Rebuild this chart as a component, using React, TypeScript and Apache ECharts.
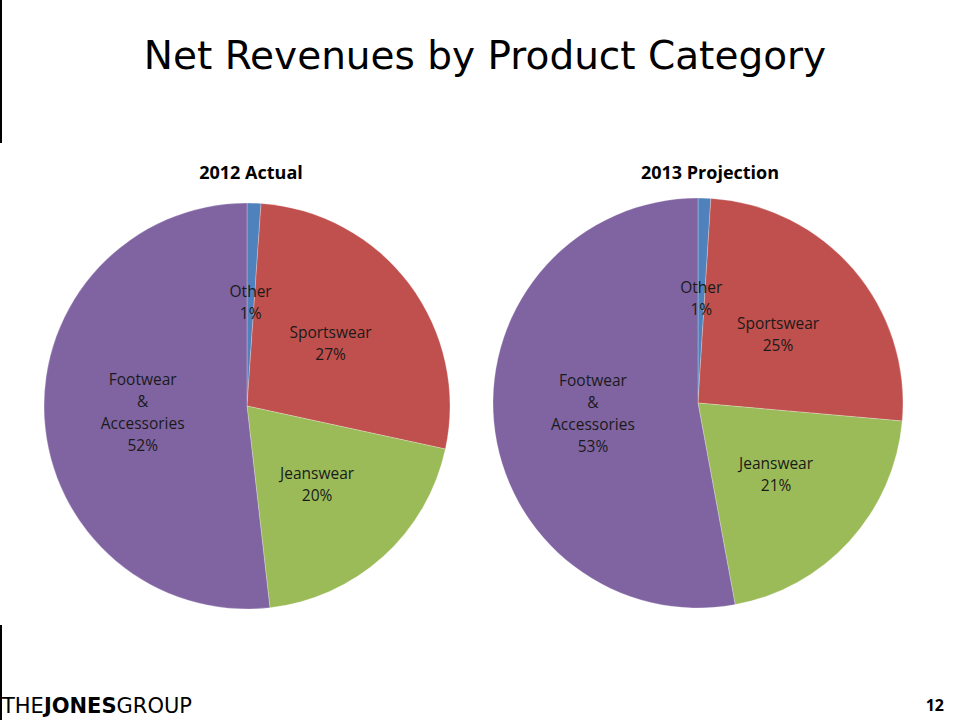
import React, { useEffect, useRef } from "react";
import * as echarts from "echarts";

const categories = ["Other", "Sportswear", "Jeanswear", "Footwear & Accessories"];
const values2012 = [1.1, 27.3, 19.8, 51.8];
const values2013 = [1.0, 25.4, 20.7, 52.9];
const chartTitles = ["2012 Actual", "2013 Projection"];
const colors = ["#4F81BD", "#C0504D", "#9BBB59", "#8064A2"];

export default function App() {
  const ref = useRef<HTMLDivElement>(null);
  useEffect(() => {
    if (!ref.current) return;
    const chart = echarts.init(ref.current, undefined, { renderer: "svg" });
    const labelFmt = (p: any) => `${String(p.name).replace(" & ", "\n&\n")}\n${Math.round(p.percent)}%`;
    const mkSeries = (vals: number[], center: [number, number], radius: number) => ({
      type: "pie",
      center,
      radius,
      startAngle: 90,
      clockwise: true,
      animation: false,
      percentPrecision: 0,
      data: categories.map((c, i) => ({ name: c, value: vals[i], itemStyle: { color: colors[i] } })),
      itemStyle: { borderColor: "rgba(255,255,255,0.5)", borderWidth: 0.5 },
      label: {
        show: true,
        position: "inside",
        formatter: labelFmt,
        color: "#1a1a1a",
        fontFamily: "Open Sans",
        fontSize: 15.5,
        lineHeight: 22,
        align: "center",
      },
      labelLine: { show: false },
      emphasis: { disabled: true },
    });
    chart.setOption({
      animation: false,
      backgroundColor: "#ffffff",
      title: [
        {
          text: "Net Revenues by Product Category",
          left: 480,
          top: 31,
          textAlign: "center",
          textStyle: { fontFamily: "DejaVu Sans", fontSize: 39, fontWeight: "normal", color: "#000" },
        },
        {
          text: chartTitles[0],
          left: 246,
          top: 158,
          textAlign: "center",
          textStyle: { fontFamily: "Open Sans", fontSize: 18, fontWeight: "bold", color: "#000" },
        },
        {
          text: chartTitles[1],
          left: 705,
          top: 158,
          textAlign: "center",
          textStyle: { fontFamily: "Open Sans", fontSize: 18, fontWeight: "bold", color: "#000" },
        },
      ],
      series: [mkSeries(values2012, [247, 406], 203), mkSeries(values2013, [698, 403], 205)],
      graphic: [
        { type: "rect", shape: { x: 0, y: 0, width: 2, height: 143 }, style: { fill: "#000" } },
        { type: "rect", shape: { x: 0, y: 625, width: 2, height: 95 }, style: { fill: "#000" } },
        {
          type: "text",
          x: 2,
          y: 695,
          style: {
            text: "{a|THE}{b|JONES}{a|GROUP}",
            rich: {
              a: { fontFamily: "DejaVu Sans", fontSize: 21, color: "#8a8a8a", fontWeight: "normal" },
              b: { fontFamily: "DejaVu Sans", fontSize: 21, color: "#000", fontWeight: "bold" },
            },
          },
        },
        {
          type: "text",
          x: 944,
          y: 697,
          style: {
            text: "12",
            align: "right",
            fontFamily: "Open Sans",
            fontSize: 16,
            fontWeight: "bold",
            fill: "#000",
          },
        },
      ],
    });
    return () => chart.dispose();
  }, []);
  return (
    <div
      ref={ref}
      style={{ position: "absolute", left: 0, top: 0, width: 960, height: 720, background: "#fff" }}
    />
  );
}
